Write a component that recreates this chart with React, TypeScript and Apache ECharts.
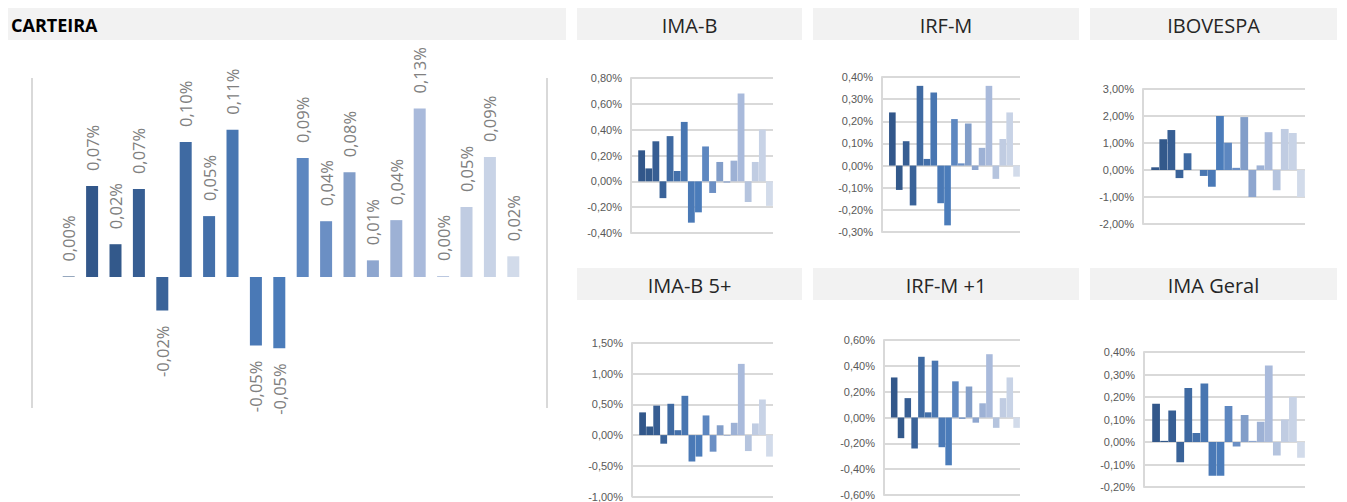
import React, { useEffect, useRef } from "react";
import * as echarts from "echarts";

const colors = ["#2f527f","#32578a","#33598b","#375e93","#3a6399","#3f6aa2","#4470aa","#4876b1","#4a79b6","#4b7cba","#5d87c0","#6b8fc4","#829ec9","#8ea6cf","#9db1d5","#a9badb","#b5c4de","#c0cce2","#c8d3e6","#d2dbea"];

const carteira = [0.0003,0.0677,0.0244,0.0654,-0.0249,0.1005,0.0453,0.1095,-0.051,-0.053,0.0886,0.0415,0.078,0.0124,0.0423,0.1254,0.0007,0.052,0.0893,0.0154];

const imaB = [0,0.24,0.10,0.31,-0.13,0.35,0.08,0.46,-0.32,-0.24,0.27,-0.09,0.15,-0.01,0.16,0.68,-0.16,0.15,0.40,-0.19];
const irfM = [0,0.24,-0.11,0.11,-0.18,0.36,0.03,0.33,-0.17,-0.27,0.21,0.01,0.19,-0.02,0.08,0.36,-0.06,0.12,0.24,-0.05];
const ibovespa = [0,0.10,1.14,1.48,-0.30,0.62,0,-0.22,-0.62,2.00,1.01,0.08,1.96,-1.00,0.17,1.40,-0.75,1.52,1.37,-1.00];
const imaB5 = [0,0.37,0.14,0.48,-0.14,0.51,0.08,0.64,-0.43,-0.35,0.32,-0.27,0.16,-0.01,0.20,1.16,-0.26,0.19,0.58,-0.35];
const irfM1 = [0,0.31,-0.16,0.15,-0.24,0.47,0.04,0.44,-0.23,-0.37,0.28,-0.01,0.24,-0.04,0.11,0.49,-0.08,0.15,0.31,-0.08];
const imaGeral = [0,0.17,0.005,0.14,-0.09,0.24,0.04,0.26,-0.15,-0.15,0.16,-0.02,0.12,0.005,0.09,0.34,-0.06,0.10,0.20,-0.07];

const categories = carteira.map((_, i) => String(i + 1));

const panels = [
  { title: "IMA-B", data: imaB, min: -0.4, max: 0.8, interval: 0.2, left: 631, right: 773, top: 78, bottom: 233, hx: 577, hw: 225, hy: 8 },
  { title: "IRF-M", data: irfM, min: -0.3, max: 0.4, interval: 0.1, left: 882, right: 1020, top: 77, bottom: 232, hx: 813, hw: 266, hy: 8 },
  { title: "IBOVESPA", data: ibovespa, min: -2, max: 3, interval: 1, left: 1143, right: 1305, top: 89, bottom: 224, hx: 1090, hw: 247, hy: 8 },
  { title: "IMA-B 5+", data: imaB5, min: -1, max: 1.5, interval: 0.5, left: 632, right: 773, top: 343, bottom: 497, hx: 577, hw: 225, hy: 268 },
  { title: "IRF-M +1", data: irfM1, min: -0.6, max: 0.6, interval: 0.2, left: 884, right: 1020, top: 340, bottom: 495, hx: 813, hw: 266, hy: 268 },
  { title: "IMA Geral", data: imaGeral, min: -0.2, max: 0.4, interval: 0.1, left: 1144, right: 1305, top: 352, bottom: 487, hx: 1090, hw: 247, hy: 268 },
];

const fmt = (v: number) => v.toFixed(2).replace(".", ",") + "%";

export default function App() {
  const ref = useRef<HTMLDivElement>(null);
  useEffect(() => {
    const chart = echarts.init(ref.current!, undefined, { renderer: "svg" });
    const grids: any[] = [{ left: 57, top: 78, width: 468, height: 330 }];
    const xAxes: any[] = [{ gridIndex: 0, type: "category", data: categories, show: false }];
    const yAxes: any[] = [{ gridIndex: 0, type: "value", min: -0.0974, max: 0.148, show: false }];
    const series: any[] = [{
      type: "bar", xAxisIndex: 0, yAxisIndex: 0, barWidth: 12,
      data: carteira.map((v, i) => ({
        value: v,
        itemStyle: { color: colors[i] },
        label: {
          show: true, rotate: 90, position: v >= 0 ? "top" : "bottom",
          align: v >= 0 ? "left" : "right", verticalAlign: "middle", distance: 15,
          formatter: fmt(v), fontSize: 16.5, color: "#808080", fontFamily: "Open Sans",
        },
      })),
    }];
    const graphic: any[] = [
      { type: "rect", shape: { x: 8, y: 8, width: 558, height: 32 }, style: { fill: "#f2f2f2" } },
      { type: "text", x: 11, y: 25, style: { text: "CARTEIRA", fontSize: 18, fontWeight: "bold", fontFamily: "Open Sans", fill: "#000", verticalAlign: "middle" } },
      { type: "line", shape: { x1: 32, y1: 78, x2: 32, y2: 408 }, style: { stroke: "#d9d9d9", lineWidth: 2 } },
      { type: "line", shape: { x1: 547, y1: 78, x2: 547, y2: 408 }, style: { stroke: "#d9d9d9", lineWidth: 2 } },
    ];
    panels.forEach((p, k) => {
      const gi = k + 1;
      grids.push({ left: p.left, top: p.top, width: p.right - p.left, height: p.bottom - p.top });
      xAxes.push({ gridIndex: gi, type: "category", data: categories, axisLine: { show: false }, axisTick: { show: false }, axisLabel: { show: false } });
      yAxes.push({
        gridIndex: gi, type: "value", min: p.min, max: p.max, interval: p.interval,
        axisLine: { show: true, lineStyle: { color: "#d9d9d9", width: 2 } },
        axisTick: { show: false },
        splitLine: { lineStyle: { color: "#d9d9d9", width: 2 } },
        axisLabel: { formatter: (v: number) => fmt(v), fontSize: 11, color: "#595959", fontFamily: "Liberation Sans", margin: 9 },
      });
      series.push({
        type: "bar", xAxisIndex: gi, yAxisIndex: gi, barCategoryGap: "4%",
        data: p.data.map((v, i) => ({ value: v, itemStyle: { color: colors[i] } })),
      });
      graphic.push({ type: "rect", shape: { x: p.hx, y: p.hy, width: p.hw, height: 32 }, style: { fill: "#f2f2f2" } });
      graphic.push({ type: "text", x: p.hx + p.hw / 2, y: p.hy + 17, style: { text: p.title, fontSize: 20, fontFamily: "Open Sans", fill: "#262626", align: "center", verticalAlign: "middle" } });
    });
    chart.setOption({ animation: false, backgroundColor: "#fff", grid: grids, xAxis: xAxes, yAxis: yAxes, series, graphic });
    return () => chart.dispose();
  }, []);
  return <div ref={ref} style={{ position: "fixed", left: 0, top: 0, width: 1347, height: 502 }} />;
}
